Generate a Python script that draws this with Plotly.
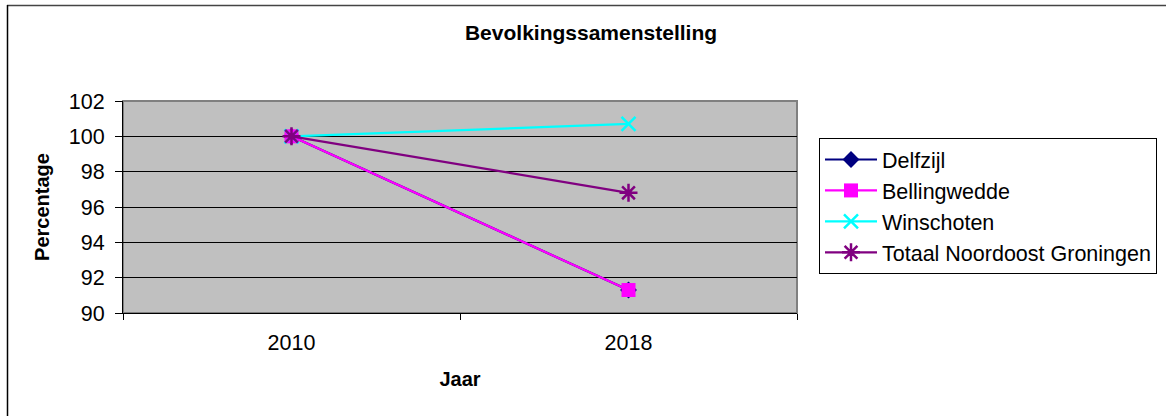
import plotly.graph_objects as go

years = ["2010", "2018"]
delfzijl = [100.0, 91.3]
bellingwedde = [100.0, 91.3]
winschoten = [100.0, 100.7]
totaal = [100.0, 96.8]

series = [
    ("Delfzijl", delfzijl, "#000080", dict(symbol="diamond", size=13)),
    ("Bellingwedde", bellingwedde, "#FF00FF", dict(symbol="square", size=14)),
    ("Winschoten", winschoten, "#00FFFF", dict(symbol="x-thin", size=14, line=dict(width=2.5, color="#00FFFF"))),
    ("Totaal Noordoost Groningen", totaal, "#800080", dict(symbol="asterisk", size=15, line=dict(width=2.5, color="#800080"))),
]

fig = go.Figure()
xpos = list(range(len(years)))
for name, vals, col, mk in series:
    mk = dict(mk)
    mk["color"] = col
    fig.add_trace(go.Scatter(
        x=xpos, y=vals, name=name, mode="lines+markers",
        line=dict(color=col, width=2.2), marker=mk, legendgroup=name,
    ))

L, R, T, B = 123, 369, 101, 103
W, H = 1166, 416
pw, ph = W - L - R, H - T - B

def px_x(x):
    return (x - L) / pw

def px_y(y):
    return (H - B - y) / ph

fig.update_layout(
    width=W, height=H,
    margin=dict(l=L, r=R, t=T, b=B, autoexpand=False),
    paper_bgcolor="white", plot_bgcolor="#C0C0C0",
    font=dict(family="Liberation Sans, Arial", size=21, color="black"),
    title=dict(text="<b>Bevolkingssamenstelling</b>", x=591 / W, xanchor="center",
               y=1 - 33 / H, yanchor="middle", font=dict(size=21)),
    xaxis=dict(
        range=[-0.5, 1.5], tickvals=xpos, ticktext=years, ticks="", showgrid=False,
        showline=True, linecolor="black", linewidth=1, mirror=False, zeroline=False,
        minor=dict(tick0=-0.5, dtick=1, ticks="outside", ticklen=6, tickcolor="black", showgrid=False),
        ticklabelstandoff=10, tickfont=dict(size=21.5),
        title=dict(text="<b>Jaar</b>", standoff=18, font=dict(size=20)),
        fixedrange=True,
    ),
    yaxis=dict(
        range=[90, 102], dtick=2, ticks="outside", ticklen=7, tickcolor="black",
        showgrid=True, gridcolor="black", gridwidth=1,
        showline=True, linecolor="black", linewidth=1, zeroline=False,
        ticklabelstandoff=6, tickfont=dict(size=21.5),
        title=dict(text="<b>Percentage</b>", standoff=13, font=dict(size=20)),
        fixedrange=True,
    ),
    legend=dict(
        xref="container", yref="container",
        x=819 / W, y=1 - 138 / H, xanchor="left", yanchor="top",
        bordercolor="black", borderwidth=1, bgcolor="white",
        font=dict(size=21.5), itemwidth=52, tracegroupgap=0,
    ),
    showlegend=True,
    shapes=[
        dict(type="line", xref="paper", yref="paper",
             x0=px_x(7), x1=px_x(1166), y0=px_y(5.5), y1=px_y(5.5),
             line=dict(color="#444444", width=1.5)),
        dict(type="line", xref="paper", yref="paper",
             x0=px_x(7.5), x1=px_x(7.5), y0=px_y(5), y1=px_y(416),
             line=dict(color="black", width=1.5)),
        dict(type="rect", xref="paper", yref="paper", x0=0, x1=1, y0=0, y1=1,
             line=dict(color="#808080", width=2), fillcolor="rgba(0,0,0,0)", layer="below"),
    ],
)

fig.write_html("out.html", config={"displayModeBar": False},
               post_script="document.body.style.margin='0px';")
